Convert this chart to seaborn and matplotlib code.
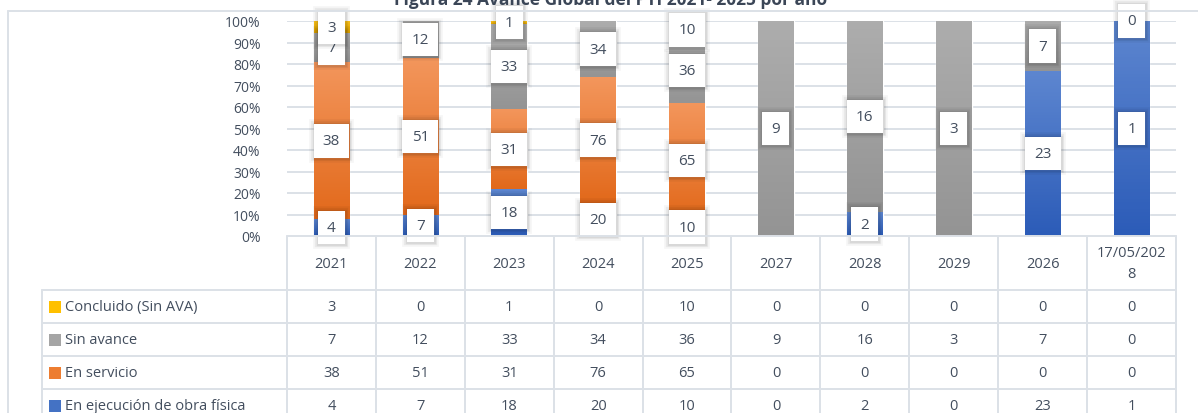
import numpy as np
import matplotlib
matplotlib.use("Agg")
import matplotlib.pyplot as plt
import seaborn as sns
from matplotlib.colors import LinearSegmentedColormap
from matplotlib.patches import Rectangle
from matplotlib.lines import Line2D
from matplotlib import patheffects as pe

# ---------------- data ----------------
categories = ["2021", "2022", "2023", "2024", "2025", "2027", "2028", "2029", "2026", "17/05/2028"]
header_labels = ["2021", "2022", "2023", "2024", "2025", "2027", "2028", "2029", "2026", "17/05/202\n8"]
series_names = ["Concluido (Sin AVA)", "Sin avance", "En servicio", "En ejecución de obra física"]
concluido = [3, 0, 1, 0, 10, 0, 0, 0, 0, 0]
sin_avance = [7, 12, 33, 34, 36, 9, 16, 3, 7, 0]
en_servicio = [38, 51, 31, 76, 65, 0, 0, 0, 0, 0]
en_ejecucion = [4, 7, 18, 20, 10, 0, 2, 0, 23, 1]
zero_labels = [("Sin avance", "17/05/2028")]
title = "Figura 24 Avance Global del PTI 2021- 2025 por año"
ytick_values = [0, 10, 20, 30, 40, 50, 60, 70, 80, 90, 100]

# ---------------- style ----------------
sns.set_theme(style="white")
plt.rcParams["font.family"] = ["Open Sans", "DejaVu Sans"]
TXT = "#434E5E"
GRID = "#DCE1E7"
series_values = {
    "Concluido (Sin AVA)": concluido,
    "Sin avance": sin_avance,
    "En servicio": en_servicio,
    "En ejecución de obra física": en_ejecucion,
}
grad = {  # (bottom, top)
    "Concluido (Sin AVA)": ("#E3A600", "#FFC61E"),
    "Sin avance": ("#949494", "#ADADAD"),
    "En servicio": ("#E2691B", "#F3965C"),
    "En ejecución de obra física": ("#2C5CB8", "#5D86D0"),
}
legend_col = {
    "Concluido (Sin AVA)": "#FFC000",
    "Sin avance": "#A5A5A5",
    "En servicio": "#ED7D31",
    "En ejecución de obra física": "#4472C4",
}

W, H = 1198, 414
fig = plt.figure(figsize=(W / 100, H / 100), dpi=100)
fig.patch.set_facecolor("white")


def px_axes(x0, y0, x1, y1):
    return fig.add_axes([x0 / W, 1 - y1 / H, (x1 - x0) / W, (y1 - y0) / H])


AX_L, AX_R, AX_T, AX_B = 287, 1176, 22, 237
ax = px_axes(AX_L, AX_T, AX_R, AX_B)

totals = np.array(concluido) + np.array(sin_avance) + np.array(en_servicio) + np.array(en_ejecucion)
stack_order = ["En ejecución de obra física", "En servicio", "Sin avance", "Concluido (Sin AVA)"]
bottom = np.zeros(len(categories))
label_info = []
for name in stack_order:
    vals = np.array(series_values[name], dtype=float)
    pct = vals / totals * 100
    n0 = len(ax.patches)
    sns.barplot(x=categories, y=pct, order=categories, color=legend_col[name], saturation=1,
                width=0.4, errorbar=None, bottom=bottom.copy(), ax=ax, zorder=2)
    new_patches = ax.patches[n0:]
    cmap = LinearSegmentedColormap.from_list(name, list(grad[name]))
    for p in new_patches:
        x0, y0 = p.get_x(), p.get_y()
        w, h = p.get_width(), p.get_height()
        if h <= 0:
            continue
        im = ax.imshow(np.linspace(0, 1, 64).reshape(-1, 1), cmap=cmap, origin="lower",
                       extent=[x0, x0 + w, y0, y0 + h], aspect="auto", zorder=3)
        im.set_clip_path(p)
    for i, cat in enumerate(categories):
        v = vals[i]
        if v > 0 or (name, cat) in zero_labels:
            label_info.append((i, bottom[i] + pct[i] / 2, int(v)))
    bottom = bottom + pct

for i, y, v in label_info:
    t = ax.text(i, y, str(v), ha="center", va="center", fontsize=11, color=TXT, zorder=6,
                clip_on=False,
                bbox=dict(boxstyle="square,pad=0.6", fc="white", ec="none"))
    t.get_bbox_patch().set_path_effects([
        pe.Stroke(linewidth=7, foreground="black", alpha=0.035),
        pe.Stroke(linewidth=4.5, foreground="black", alpha=0.05),
        pe.Stroke(linewidth=2.5, foreground="black", alpha=0.07),
        pe.Normal()])

ax.set_xlim(-0.5, len(categories) - 0.5)
ax.set_ylim(0, 100)
ax.set_yticks(ytick_values)
ax.set_yticklabels([f"{v}%" for v in ytick_values], fontsize=10, color=TXT)
ax.tick_params(axis="y", length=0, pad=19)
ax.set_xticks([])
ax.set_xlabel("")
ax.set_ylabel("")
ax.yaxis.grid(True, color=GRID, lw=1.4, zorder=0)
ax.set_axisbelow(True)
for s in ax.spines.values():
    s.set_visible(False)
ax.patch.set_alpha(0)

# ---------------- data table ----------------
TAB_L, TAB_T = 42, AX_B
tax = px_axes(TAB_L, TAB_T, AX_R, H)
colw = (AX_R - AX_L) / len(categories)
xmin = -0.5 - (AX_L - TAB_L) / colw
xmax = len(categories) - 0.5
tax.set_xlim(xmin, xmax)
tax.set_ylim(H - TAB_T, 0)
tax.axis("off")


def pxx(px):
    return -0.5 + (px - AX_L) / colw


HEAD = 54
ROW = 33
lc = dict(color=GRID, lw=1.4, clip_on=False)
for k in range(len(categories) + 1):
    tax.plot([k - 0.5, k - 0.5], [0, H], **lc)
tax.plot([xmin, xmin], [HEAD, H], **lc)
tax.plot([-0.5, xmax], [0, 0], **lc)
for r in range(len(series_names) + 1):
    tax.plot([xmin, xmax], [HEAD + r * ROW, HEAD + r * ROW], **lc)

for i, lab in enumerate(header_labels):
    tax.text(i, HEAD / 2, lab, ha="center", va="center", fontsize=10.5, color=TXT,
             linespacing=1.6)

for r, name in enumerate(series_names):
    yc = HEAD + r * ROW + ROW / 2
    sq = 12
    tax.add_patch(Rectangle((pxx(49), yc - sq / 2), sq / colw, sq,
                            facecolor=legend_col[name], edgecolor="none"))
    tax.text(pxx(65), yc, name, ha="left", va="center", fontsize=10.5, color=TXT)
    for i, v in enumerate(series_values[name]):
        tax.text(i, yc, str(v), ha="center", va="center", fontsize=10.5, color=TXT)

# ---------------- frame & title ----------------
fig.add_artist(Line2D([8 / W, 8 / W], [0, 1 - 12 / H], color=GRID, lw=1.4))
fig.add_artist(Line2D([8 / W, 1], [1 - 12 / H, 1 - 12 / H], color=GRID, lw=1.4))
fig.text(611 / W, 1 - 5 / H, title, ha="center", va="baseline", fontsize=12.5,
         fontweight="bold", color="#3B4657")

fig.savefig("out.png", dpi=100, facecolor="white")
